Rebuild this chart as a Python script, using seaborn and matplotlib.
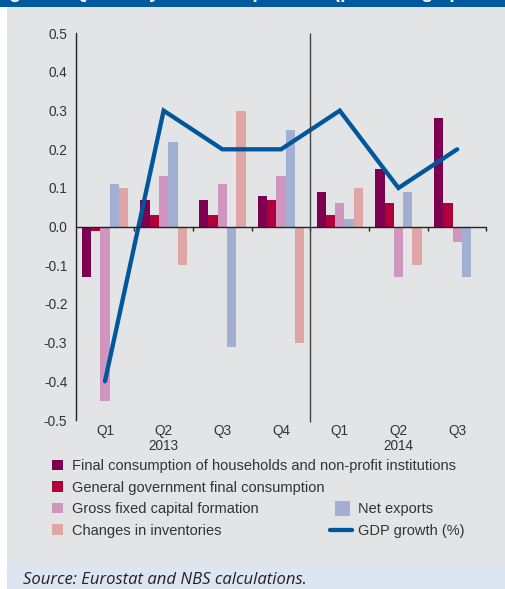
import numpy as np
import pandas as pd
import matplotlib
matplotlib.use("Agg")
import matplotlib.pyplot as plt
from matplotlib.patches import Rectangle
from matplotlib.lines import Line2D
from matplotlib.legend_handler import HandlerPatch
import matplotlib.transforms as mtransforms
import seaborn as sns

quarters = ["Q1", "Q2", "Q3", "Q4", "Q1", "Q2", "Q3"]
years = ["", "2013", "", "", "", "2014", ""]
series = [
    "Final consumption of households and non-profit institutions",
    "General government final consumption",
    "Gross fixed capital formation",
    "Net exports",
    "Changes in inventories",
]
households = [-0.13, 0.07, 0.07, 0.08, 0.09, 0.15, 0.28]
government = [-0.01, 0.03, 0.03, 0.07, 0.03, 0.06, 0.06]
gfcf = [-0.45, 0.13, 0.11, 0.13, 0.06, -0.13, -0.04]
net_exports = [0.11, 0.22, -0.31, 0.25, 0.02, 0.09, -0.13]
inventories = [0.10, -0.10, 0.30, -0.30, 0.10, -0.10, 0.0]
gdp_growth = [-0.4, 0.3, 0.2, 0.2, 0.3, 0.1, 0.2]
yticks = [-0.5, -0.4, -0.3, -0.2, -0.1, 0.0, 0.1, 0.2, 0.3, 0.4, 0.5]

colors = ["#7e0050", "#b0003a", "#d196c0", "#a2afd3", "#e0a6a5"]
line_color = "#00579c"
panel_bg = "#e3e4e6"
text_color = "#333333"

sns.set_style("white")
plt.rcParams["font.family"] = ["Liberation Sans", "DejaVu Sans"]

W, H = 506, 589
fig = plt.figure(figsize=(W / 100, H / 100), dpi=100)
fig.patch.set_facecolor("white")

# background panels
fig.add_artist(Rectangle((7 / W, 28 / H), 1 - 7 / W, (561 - 7) / H, transform=fig.transFigure,
                         facecolor=panel_bg, edgecolor="none", zorder=-10))
fig.add_artist(Rectangle((7 / W, 0), 1 - 7 / W, 28 / H, transform=fig.transFigure,
                         facecolor="#dce5f0", edgecolor="none", zorder=-10))
fig.add_artist(Rectangle((0, 1 - 7 / H), 1, 7 / H, transform=fig.transFigure,
                         facecolor="#005aa0", edgecolor="none", zorder=-9))
fig.text(-8 / W, 1 + 2.5 / H, "Figure 1 Quarterly GDP components (percentage points)",
         color="white", fontsize=14, fontweight="bold", va="baseline", ha="left")

ax = fig.add_axes([75.6 / W, 1 - 420 / H, (486.5 - 75.6) / W, (420 - 33.3) / H])
ax.set_facecolor("none")

rows = []
vals = [households, government, gfcf, net_exports, inventories]
for s, v in zip(series, vals):
    for i, q in enumerate(quarters):
        rows.append({"idx": i, "series": s, "value": v[i]})
df = pd.DataFrame(rows)

sns.barplot(data=df, x="idx", y="value", hue="series", hue_order=series,
            palette=colors, width=0.79, gap=0, saturation=1, ax=ax,
            legend=False, errorbar=None, edgecolor="none", linewidth=0)

sns.lineplot(x=np.arange(len(quarters)), y=gdp_growth, color=line_color, lw=3.1,
             ax=ax, sort=False, zorder=5, solid_joinstyle="miter")

ax.set_xlim(-0.5, len(quarters) - 0.5)
ax.set_ylim(-0.5, 0.5)
ax.set_yticks(yticks)
ax.set_yticklabels([f"{t:.1f}" for t in yticks])
ax.set_xticks(np.arange(len(quarters)))
ax.set_xticklabels(quarters)
ax.set_xlabel("")
ax.set_ylabel("")

for sp in ["top", "right", "bottom"]:
    ax.spines[sp].set_visible(False)
ax.spines["left"].set_color("#222222")
ax.spines["left"].set_linewidth(1.0)
ax.tick_params(axis="y", direction="out", length=4, width=1, color="#222222",
               labelsize=9.8, labelcolor=text_color, pad=2)
ax.tick_params(axis="x", length=0, labelsize=9.8, labelcolor=text_color, pad=3)

# zero axis line with boundary ticks
ax.axhline(0, color="#222222", lw=1.0, zorder=6)
bounds = np.arange(len(quarters) + 1) - 0.5
ax.vlines(bounds[1:], -0.011, 0, color="#222222", lw=1.0, zorder=6, clip_on=False)
# separator between years
ax.vlines(3.5, -0.505, 0.5, color="#444444", lw=1.0, zorder=6, clip_on=False)

# year labels
year_tr = mtransforms.offset_copy(ax.transData, fig=fig, y=-18.5, units="dots")
for i, y in enumerate(years):
    if y:
        ax.text(i, -0.5, y, transform=year_tr, ha="center", va="top",
                fontsize=9.8, color=text_color)


def small_square(legend, orig_handle, xdescent, ydescent, width, height, fontsize):
    s = 11
    return Rectangle((-xdescent + (width - s) / 2 + 1, -ydescent + (height - s) / 2), s, s)


# legends
handles_left = [Rectangle((0, 0), 1, 1, facecolor=colors[k], edgecolor="none") for k in [0, 1, 2, 4]]
labels_left = [series[0], series[1], series[2], series[4]]
leg1 = fig.legend(handles_left, labels_left, loc="upper left",
                  bbox_to_anchor=(52 / W, 1 - 459 / H), frameon=False,
                  fontsize=10.5, handlelength=0.75, handleheight=0.75, handletextpad=0.62,
                  labelspacing=0.52, borderpad=0, borderaxespad=0, labelcolor=text_color)
handles_right = [Rectangle((0, 0), 1, 1, facecolor=colors[3], edgecolor="none"),
                 Line2D([0], [0], color=line_color, lw=3.1)]
labels_right = ["Net exports", "GDP growth (%)"]
leg2 = fig.legend(handles_right, labels_right, loc="upper left",
                  bbox_to_anchor=(330 / W, 1 - 502.5 / H), frameon=False,
                  fontsize=10.5, handlelength=1.5, handleheight=0.75, handletextpad=0.4,
                  labelspacing=0.52, borderpad=0, borderaxespad=0, labelcolor=text_color,
                  handler_map={Rectangle: HandlerPatch(patch_func=small_square)})

fig.text(23 / W, 1 - 580.5 / H, "Source: Eurostat and NBS calculations.", fontsize=12,
         style="italic", color="#222222", va="center", ha="left",
         family=["Open Sans", "DejaVu Sans"])

fig.savefig("out.png", dpi=100)
